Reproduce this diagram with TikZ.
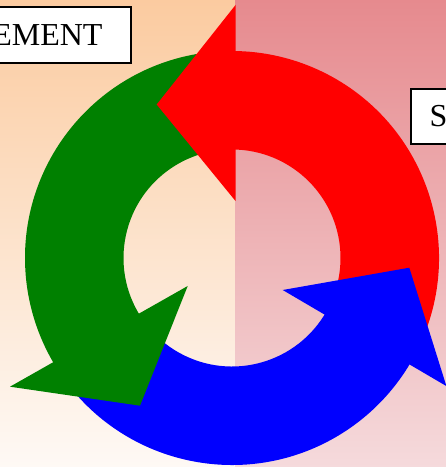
\documentclass[tikz,border=0pt]{standalone}
\usepackage{fontspec}
\setmainfont{Liberation Serif}
\usetikzlibrary{calc}
\definecolor{bgLtop}{RGB}{251,203,160}
\definecolor{bgLbot}{RGB}{254,249,245}
\definecolor{bgRtop}{RGB}{230,138,142}
\definecolor{bgRbot}{RGB}{245,218,220}
\definecolor{arrRed}{RGB}{255,0,0}
\definecolor{arrGreen}{RGB}{0,128,0}
\definecolor{arrBlue}{RGB}{0,0,255}
\begin{document}
\begin{tikzpicture}[x=1pt,y=1pt,
  labelbox/.style={draw=black, line width=2pt, fill=white,
    font=\fontsize{32}{32}\selectfont, inner ysep=0pt},
  ringbody/.style={draw=none},
  arrowhead/.style={draw=none}]
\useasboundingbox (0,0) rectangle (446,467);
\clip (0,0) rectangle (446,467);
% background
\shade[top color=bgLtop, bottom color=bgLbot] (0,0) rectangle (235,467);
\shade[top color=bgRtop, bottom color=bgRbot] (235,0) rectangle (446,467);
% ring bodies
\coordinate (c) at (232,209);
\fill[ringbody, arrRed] ($(c)+(-26:207)$) arc[start angle=-26, end angle=90, radius=207]
  -- ($(c)+(90:108.5)$) arc[start angle=90, end angle=-26, radius=108.5] -- cycle;
\fill[ringbody, arrGreen] ($(c)+(95:207)$) arc[start angle=95, end angle=213, radius=207]
  -- ($(c)+(213:108.5)$) arc[start angle=213, end angle=95, radius=108.5] -- cycle;
\fill[ringbody, arrBlue] ($(c)+(214:207)$) arc[start angle=214, end angle=331, radius=207]
  -- ($(c)+(331:108.5)$) arc[start angle=331, end angle=214, radius=108.5] -- cycle;
% arrow heads
\coordinate (rIn) at (235.5,266);
\coordinate (rTip) at (156.7,362.5);
\coordinate (rOut) at (235.5,462);
\fill[arrowhead, arrRed] (rIn) -- (rTip) -- (rOut) -- cycle;
\coordinate (gOut) at (10,80.3);
\coordinate (gTip) at (140,61.3);
\coordinate (gIn) at (187.7,181);
\fill[arrowhead, arrGreen] (gIn) -- (gOut) -- (gTip) -- cycle;
\coordinate (bIn) at (282.7,177);
\coordinate (bTip) at (409.3,199.3);
\coordinate (bOut) at (446.4,80.9);
\fill[arrowhead, arrBlue] (bIn) -- (bTip) -- (bOut) -- cycle;
% labels
\node[labelbox, anchor=east, inner xsep=28.5pt, minimum height=56pt] (lm) at (132,432) {EMENT};
\node[labelbox, anchor=west, inner xsep=19pt, minimum height=55.5pt] (ls) at (409.7,350.7) {S};
\end{tikzpicture}
\end{document}
